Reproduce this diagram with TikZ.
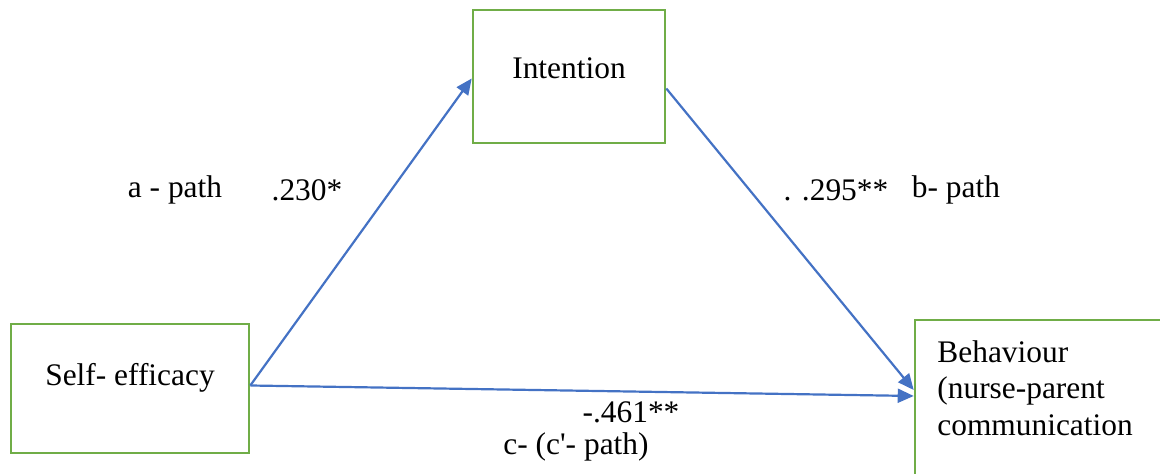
\documentclass[tikz,border=0pt]{standalone}
\usepackage{fontspec}
\setmainfont{Liberation Serif}
\usetikzlibrary{arrows.meta,positioning}
\definecolor{boxgreen}{HTML}{70AD47}
\definecolor{pathblue}{HTML}{4472C4}

\begin{document}
\begin{tikzpicture}[x=0.5pt, y=-0.5pt,
    varbox/.style={draw=boxgreen, line width=1.3pt, inner sep=0pt},
    pathline/.style={draw=pathblue, line width=1.1pt, -{Triangle[length=8pt,width=7pt]}},
    every node/.append style={font=\fontsize{15.7}{18.3}\selectfont}]
  \useasboundingbox (0,0) rectangle (1160,474);
  \clip (0,0) rectangle (1160,474);

  % 变量框
  \node[varbox, minimum width=96pt, minimum height=66.5pt] (intent) at (569,76.5) {};
  \node[varbox, minimum width=119pt, minimum height=64.5pt] (self) at (130,388.5) {};
  \node[varbox, minimum width=132.5pt, minimum height=85pt] (behav) at (1047.5,405) {};

  % 框内文字
  \node (intenttext) at (569,68) {Intention};
  \node (selftext) at (130,378) {Self- efficacy};
  \node[anchor=north west, inner sep=0pt, align=left] (behavtext) at (937,340)
    {Behaviour\\(nurse-parent\\communication};

  % 路径
  \draw[pathline] ([yshift=1.5pt]self.east) -- ([yshift=-1pt]intent.west);
  \draw[pathline] ([yshift=-6pt]intent.east) -- ([yshift=7.5pt]behav.west);
  \draw[pathline] ([yshift=1.5pt]self.east) -- ([yshift=4.5pt]behav.west);

  % 系数标签
  \node (alabel) at (175,190) {a - path};
  \node (acoef) at (307,190) {.230*};
  \node (bcoef) at (836,190) {. .295**};
  \node (blabel) at (956,190) {b- path};
  \node (ccoef) at (631,412) {-.461**};
  \node (clabel) at (576,447) {c- (c\textquotesingle- path)};
\end{tikzpicture}
\end{document}
